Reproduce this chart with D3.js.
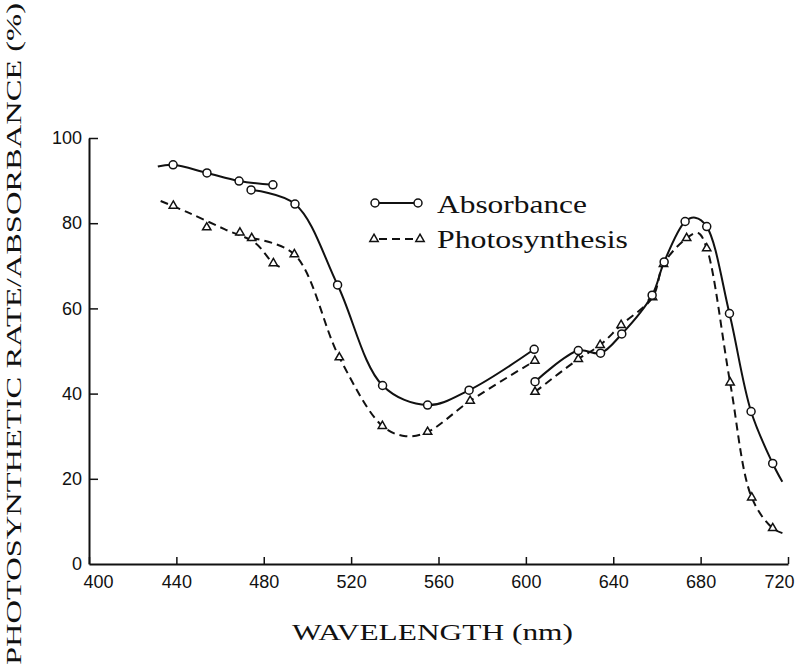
<!DOCTYPE html>
<html>
<head>
<meta charset="utf-8">
<script src="https://cdn.jsdelivr.net/npm/d3@7"></script>
<style>
  body { margin: 0; background: #fff; }
  svg { display: block; }
  .tick text { font-family: "Liberation Sans", Arial, sans-serif; font-size: 18px; fill: #111; }
  .serif { font-family: "Liberation Serif", "DejaVu Serif", serif; fill: #111; }
</style>
</head>
<body>
<svg id="chart" width="796" height="672"></svg>
<script>
// [wavelength, percent, kind]   kind: 0 = curve knot only, 1 = marker on the curve, 2 = marker off the curve
// each series is drawn as separate pieces, like the original
absorbance = [
    [[431.5, 93.3, 0], [438.5, 93.7, 1], [454, 91.8, 1], [468.7, 89.9, 1], [484.2, 89.0, 1]],
    [[474.2, 87.8, 1], [494.3, 84.5, 1], [513.8, 65.5, 1], [534.4, 41.9, 1], [555, 37.3, 1],
     [574, 40.8, 1], [603.8, 50.4, 1]],
    [[604.2, 42.8, 1], [624, 50.1, 1], [634.2, 49.5, 1], [643.9, 54.0, 1], [657.8, 63.1, 1],
     [663.3, 70.9, 1], [672.9, 80.4, 1], [677.5, 81.3, 0], [682.8, 79.2, 1], [693.2, 58.8, 1],
     [703.1, 35.8, 1], [713, 23.6, 1], [717.4, 19.3, 0]]
]

photosynthesis = [
    [[432.8, 85.2, 0], [438.6, 84.1, 2], [445, 82.6, 0], [453.9, 79.0, 2], [462, 78.6, 0],
     [469.1, 77.8, 2], [476, 75.4, 0], [484.4, 70.6, 1], [489, 69.4, 0]],
    [[474.5, 76.5, 1], [494, 72.7, 1], [514.6, 48.5, 1], [534.3, 32.4, 1], [545, 30.0, 0],
     [555, 31.0, 1], [574.5, 38.3, 1], [604.1, 47.7, 1]],
    [[604.2, 40.4, 1], [624, 48.1, 1], [634, 51.4, 1], [643.6, 56.1, 1], [658, 62.6, 1],
     [663, 70.4, 1], [673.6, 76.5, 1], [678.8, 77.7, 0], [682.8, 74.1, 1], [693.5, 42.6, 1],
     [703.4, 15.6, 1], [713, 8.4, 1], [719, 7.0, 0]]
]

xTicks = [400, 440, 480, 520, 560, 600, 640, 680, 720]
yTicks = [0, 20, 40, 60, 80, 100]

var svg = d3.select("#chart")

var x = d3.scaleLinear().domain([400, 720]).range([89, 788])
var y = d3.scaleLinear().domain([0, 100]).range([564, 138])

// axes, ticks pointing inward
var xAxis = svg.append("g")
    .attr("transform", "translate(0," + y(0) + ")")
    .call(d3.axisBottom(x).tickValues(xTicks).tickSizeInner(-7).tickSizeOuter(0).tickPadding(11))
xAxis.select(".domain").attr("stroke", "#111").attr("stroke-width", 2)
xAxis.selectAll(".tick line").attr("stroke", "#111").attr("stroke-width", 1.5)
xAxis.selectAll(".tick text").filter(d => d === 400).attr("dx", 9)
xAxis.selectAll(".tick text").filter(d => d === 720).attr("dx", -9)

var yAxis = svg.append("g")
    .attr("transform", "translate(" + x(400) + ",0)")
    .call(d3.axisLeft(y).tickValues(yTicks).tickSizeInner(-9).tickSizeOuter(0).tickPadding(7))
yAxis.select(".domain").attr("stroke", "#111").attr("stroke-width", 2)
yAxis.selectAll(".tick line").attr("stroke", "#111").attr("stroke-width", 1.5)
yAxis.selectAll(".tick").filter(d => d === 0).select("line").remove()

var line = d3.line()
    .x(d => x(d[0]))
    .y(d => y(d[1]))
    .curve(d3.curveCatmullRom.alpha(0.5))

function drawSeries(pieces, dash, marker) {
    var g = svg.append("g")
    g.selectAll("path.piece")
        .data(pieces.map(p => p.filter(d => d[2] !== 2)))
        .enter()
            .append("path")
            .attr("class", "piece")
            .attr("d", line)
            .attr("fill", "none")
            .attr("stroke", "#111")
            .attr("stroke-width", 2)
            .attr("stroke-dasharray", dash)

    var pts = pieces.flat().filter(d => d[2] > 0)
    if (marker === "circle") {
        g.selectAll("circle")
            .data(pts)
            .enter()
                .append("circle")
                .attr("cx", d => x(d[0]))
                .attr("cy", d => y(d[1]))
                .attr("r", 4)
                .attr("fill", "#fff")
                .attr("stroke", "#111")
                .attr("stroke-width", 1.5)
    } else {
        g.selectAll("path.mark")
            .data(pts)
            .enter()
                .append("path")
                .attr("class", "mark")
                .attr("d", d3.symbol(d3.symbolTriangle, 30))
                .attr("transform", d => "translate(" + x(d[0]) + "," + y(d[1]) + ")")
                .attr("fill", "#fff")
                .attr("stroke", "#111")
                .attr("stroke-width", 1.5)
    }
}

drawSeries(photosynthesis, "8,5", "triangle")
drawSeries(absorbance, null, "circle")

// legend
var legend = svg.append("g")
legend.append("line").attr("x1", 375).attr("x2", 418).attr("y1", 203).attr("y2", 203)
    .attr("stroke", "#111").attr("stroke-width", 2)
legend.selectAll("circle").data([375, 418]).enter().append("circle")
    .attr("cx", d => d).attr("cy", 203).attr("r", 4)
    .attr("fill", "#fff").attr("stroke", "#111").attr("stroke-width", 1.5)
legend.append("line").attr("x1", 374).attr("x2", 420).attr("y1", 239).attr("y2", 239)
    .attr("stroke", "#111").attr("stroke-width", 2).attr("stroke-dasharray", "8,5").attr("stroke-dashoffset", -5)
legend.selectAll("path").data([374, 420]).enter().append("path")
    .attr("d", d3.symbol(d3.symbolTriangle, 30))
    .attr("transform", d => "translate(" + d + ",239)")
    .attr("fill", "#fff").attr("stroke", "#111").attr("stroke-width", 1.5)

legend.append("text").attr("class", "serif").attr("x", 437).attr("y", 213)
    .attr("font-size", 26).attr("textLength", 150).attr("lengthAdjust", "spacingAndGlyphs")
    .text("Absorbance")
legend.append("text").attr("class", "serif").attr("x", 437).attr("y", 248)
    .attr("font-size", 26).attr("textLength", 191).attr("lengthAdjust", "spacingAndGlyphs")
    .text("Photosynthesis")

// axis titles
svg.append("text").attr("class", "serif").attr("x", 292).attr("y", 640)
    .attr("font-size", 24).attr("textLength", 281).attr("lengthAdjust", "spacingAndGlyphs")
    .text("WAVELENGTH (nm)")

svg.append("text").attr("class", "serif")
    .attr("transform", "translate(21,665) rotate(-90)")
    .attr("font-size", 21).attr("textLength", 662).attr("lengthAdjust", "spacingAndGlyphs")
    .text("PHOTOSYNTHETIC RATE/ABSORBANCE (%)")
</script>
</body>
</html>
